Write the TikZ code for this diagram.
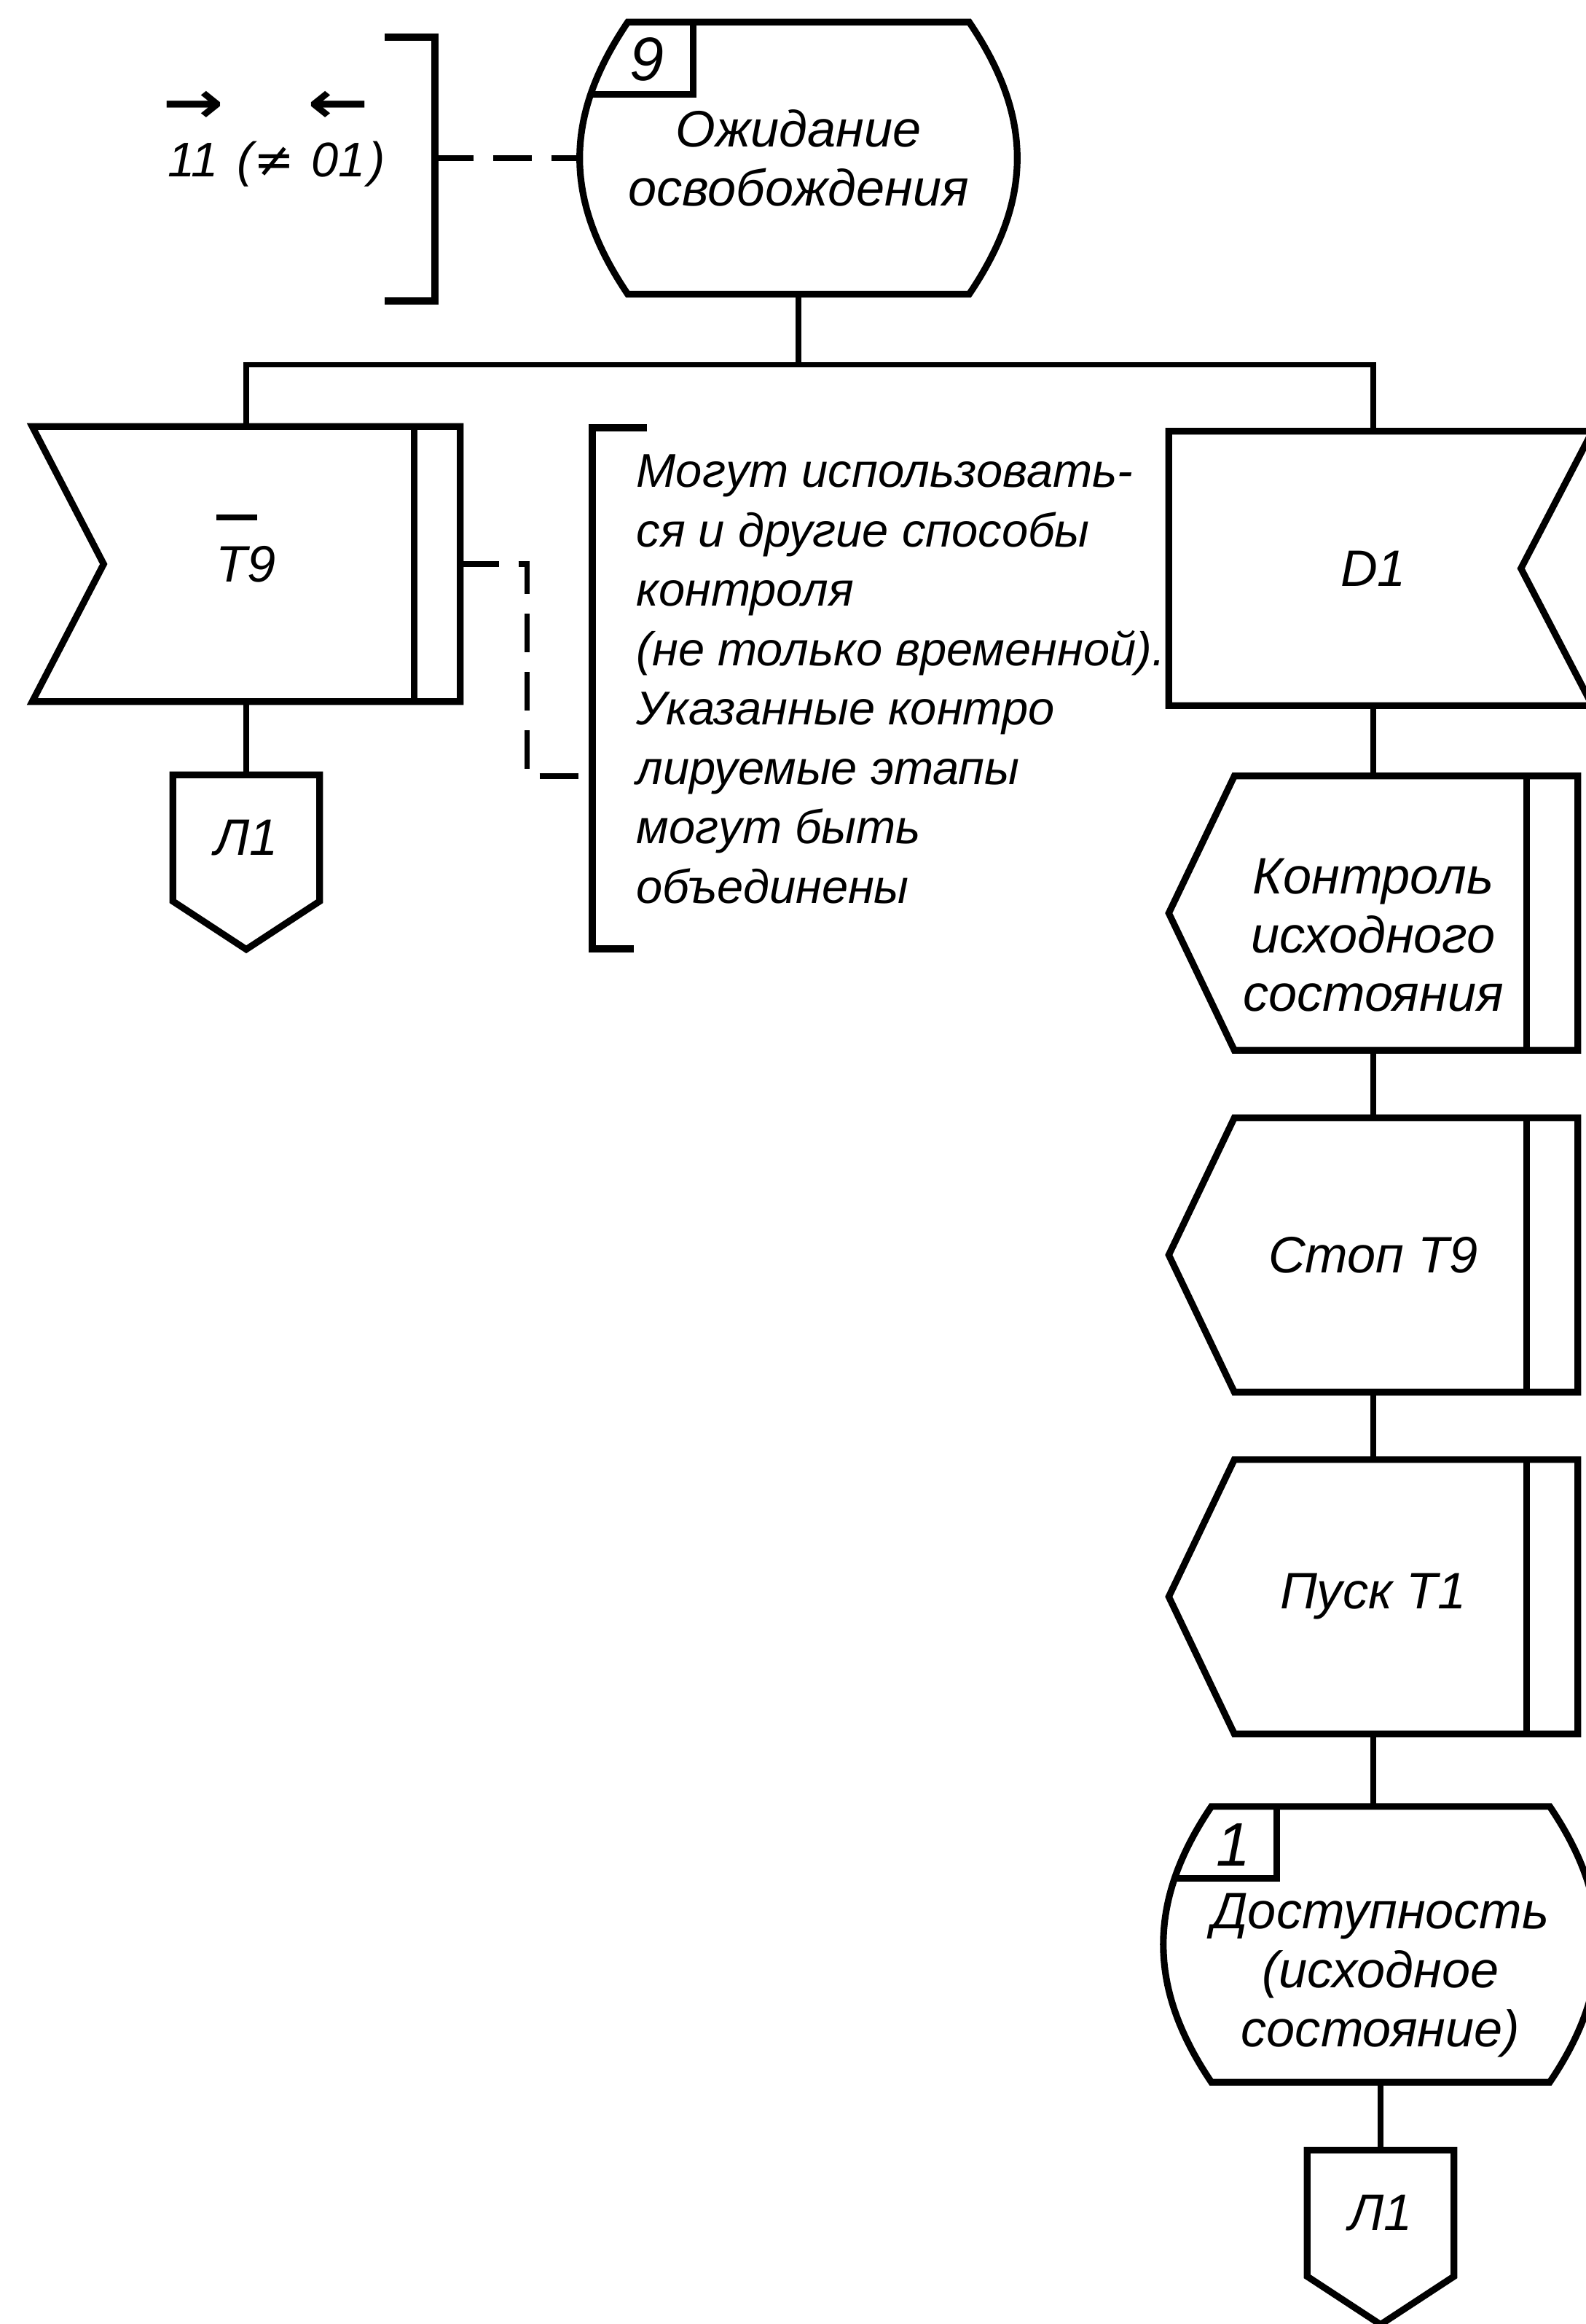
\documentclass[tikz,border=0pt]{standalone}
\usepackage{fontspec}
\setmainfont{Liberation Sans}
\newfontfamily\symfont{DejaVu Sans}
\newcommand{\arrtop}[2]{\begin{tabular}[b]{@{}c@{}}{\symfont\bfseries\scalebox{1.5}[1.2]{#1}}\\[-0.05em]#2\end{tabular}}

\begin{document}
\begin{tikzpicture}[
  shapeline/.style={line width=2.6pt, line join=miter},
  wire/.style={line width=2.1pt},
  link/.style={line width=2.1pt, dash pattern=on 0.53cm off 0.27cm},
  lbl/.style={font=\fontsize{20}{23}\selectfont\itshape, align=center, inner sep=0pt},
  blk/.style={lbl, minimum width=5.6cm, minimum height=3.75cm},
  numtext/.style={font=\fontsize{24}{26}\selectfont\itshape, inner sep=0pt},
  notetext/.style={font=\fontsize{18.5}{23.2}\selectfont\itshape, align=left, inner sep=0pt, anchor=west}
]
\useasboundingbox (0,0) rectangle (21.76,-31.89);

% ----------------------------------------------------------
% States
% ----------------------------------------------------------
\node[lbl, minimum width=4.33cm, minimum height=3.72cm] (wait) at (10.96,-2.17) {Ожидание\\освобождения};
\node[numtext] (wnum) at ([shift={(0.26,-0.51)}]wait.north west) {9};

\node[lbl, minimum width=4.4cm, minimum height=3.77cm] (avail) at (18.95,-26.68) {\rule{0pt}{15pt}\\Доступность\\(исходное\\состояние)};
\node[numtext] (anum) at ([shift={(0.3,-0.53)}]avail.north west) {1};

% ----------------------------------------------------------
% Condition and its bracket
% ----------------------------------------------------------
\node[lbl, font=\fontsize{19}{22}\selectfont\itshape, anchor=base] (cond) at (3.76,-2.42) {\arrtop{→}{11} ({\symfont ≠} \arrtop{←}{01})};
\coordinate (cbrk) at (5.97,-2.17);

% ----------------------------------------------------------
% Inputs
% ----------------------------------------------------------
\node[lbl, minimum width=5.86cm, minimum height=3.76cm] (tnine) at (3.38,-7.74) {\rlap{\smash{\rule[1.2em]{0.8em}{2.2pt}}}T9};
\node[blk] (done) at (18.85,-7.80) {D1};

% ----------------------------------------------------------
% Outputs
% ----------------------------------------------------------
\node[blk] (ctl) at (18.85,-12.53) {\rule{0pt}{8pt}\\Контроль\\исходного\\состояния};
\node[blk] (stp) at (18.85,-17.22) {Стоп T9};
\node[blk] (run) at (18.85,-21.91) {Пуск T1};

% ----------------------------------------------------------
% Connectors to other pages
% ----------------------------------------------------------
\node[lbl, minimum width=2cm, minimum height=1.72cm] (lleft) at (3.38,-11.50) {Л1};
\node[lbl, minimum width=2cm, minimum height=1.72cm] (lone) at (18.95,-30.37) {Л1};

% ----------------------------------------------------------
% Note
% ----------------------------------------------------------
\node[notetext] (note) at (8.73,-9.32) {Могут использовать-\\ся и другие способы\\контроля\\(не только временной).\\Указанные контро\\лируемые этапы\\могут быть\\объединены};
\coordinate (nbrk) at (8.13,-10.65);

% ----------------------------------------------------------
% Outlines
% ----------------------------------------------------------
\foreach \s in {wait,avail} {
    \draw[shapeline] (\s.north west) -- (\s.north east)
        .. controls +(0.88,-1.3) and +(0.88,1.3) .. (\s.south east)
        -- (\s.south west)
        .. controls +(-0.88,1.3) and +(-0.88,-1.3) .. (\s.north west) -- cycle;
    \draw[shapeline] ([xshift=0.9cm]\s.north west) -- ++(0,-0.99) -- ++(-1.42,0);
}

\foreach \b in {ctl,stp,run} {
    \draw[shapeline] (\b.west) -- ([xshift=0.9cm]\b.north west) -- (\b.north east)
        -- (\b.south east) -- ([xshift=0.9cm]\b.south west) -- cycle;
    \draw[shapeline] ([xshift=-0.7cm]\b.north east) -- ([xshift=-0.7cm]\b.south east);
}

\draw[shapeline] (done.north west) -- ([xshift=0.2cm]done.north east) -- ([xshift=-0.78cm]done.east)
    -- ([xshift=0.2cm]done.south east) -- (done.south west) -- cycle;

\draw[shapeline] (tnine.north west) -- (tnine.north east) -- (tnine.south east)
    -- (tnine.south west) -- ([xshift=0.98cm]tnine.west) -- cycle;
\draw[shapeline] ([xshift=-0.63cm]tnine.north east) -- ([xshift=-0.63cm]tnine.south east);

\foreach \o in {lleft,lone} {
    \draw[shapeline] (\o.south west) -- (\o.north west) -- (\o.north east)
        -- (\o.south east) -- ([yshift=-0.66cm]\o.south) -- cycle;
}

% brackets
\draw[shapeline] (5.28,-0.51) -| (cbrk) |- (5.28,-4.13);
\draw[shapeline] (8.88,-5.87) -| (nbrk) |- (8.70,-13.02);

% ----------------------------------------------------------
% Flow lines
% ----------------------------------------------------------
\draw[wire] (wait.south) -- ++(0,-0.97) coordinate (bus);
\draw[wire] (bus) -| (tnine.north);
\draw[wire] (bus) -| (done.north);
\draw[wire] (tnine.south) -- (lleft.north);
\draw[wire] (done.south) -- (ctl.north);
\draw[wire] (ctl.south) -- (stp.north);
\draw[wire] (stp.south) -- (run.north);
\draw[wire] (run.south) -- (run.south |- avail.north);
\draw[wire] (avail.south) -- (lone.north);

% ----------------------------------------------------------
% Dashed links
% ----------------------------------------------------------
\draw[link] (cbrk) -- ([xshift=-0.66cm]wait.west);
\draw[link] (tnine.east) -- ++(0.92,0) |- (nbrk);

\end{tikzpicture}
\end{document}
